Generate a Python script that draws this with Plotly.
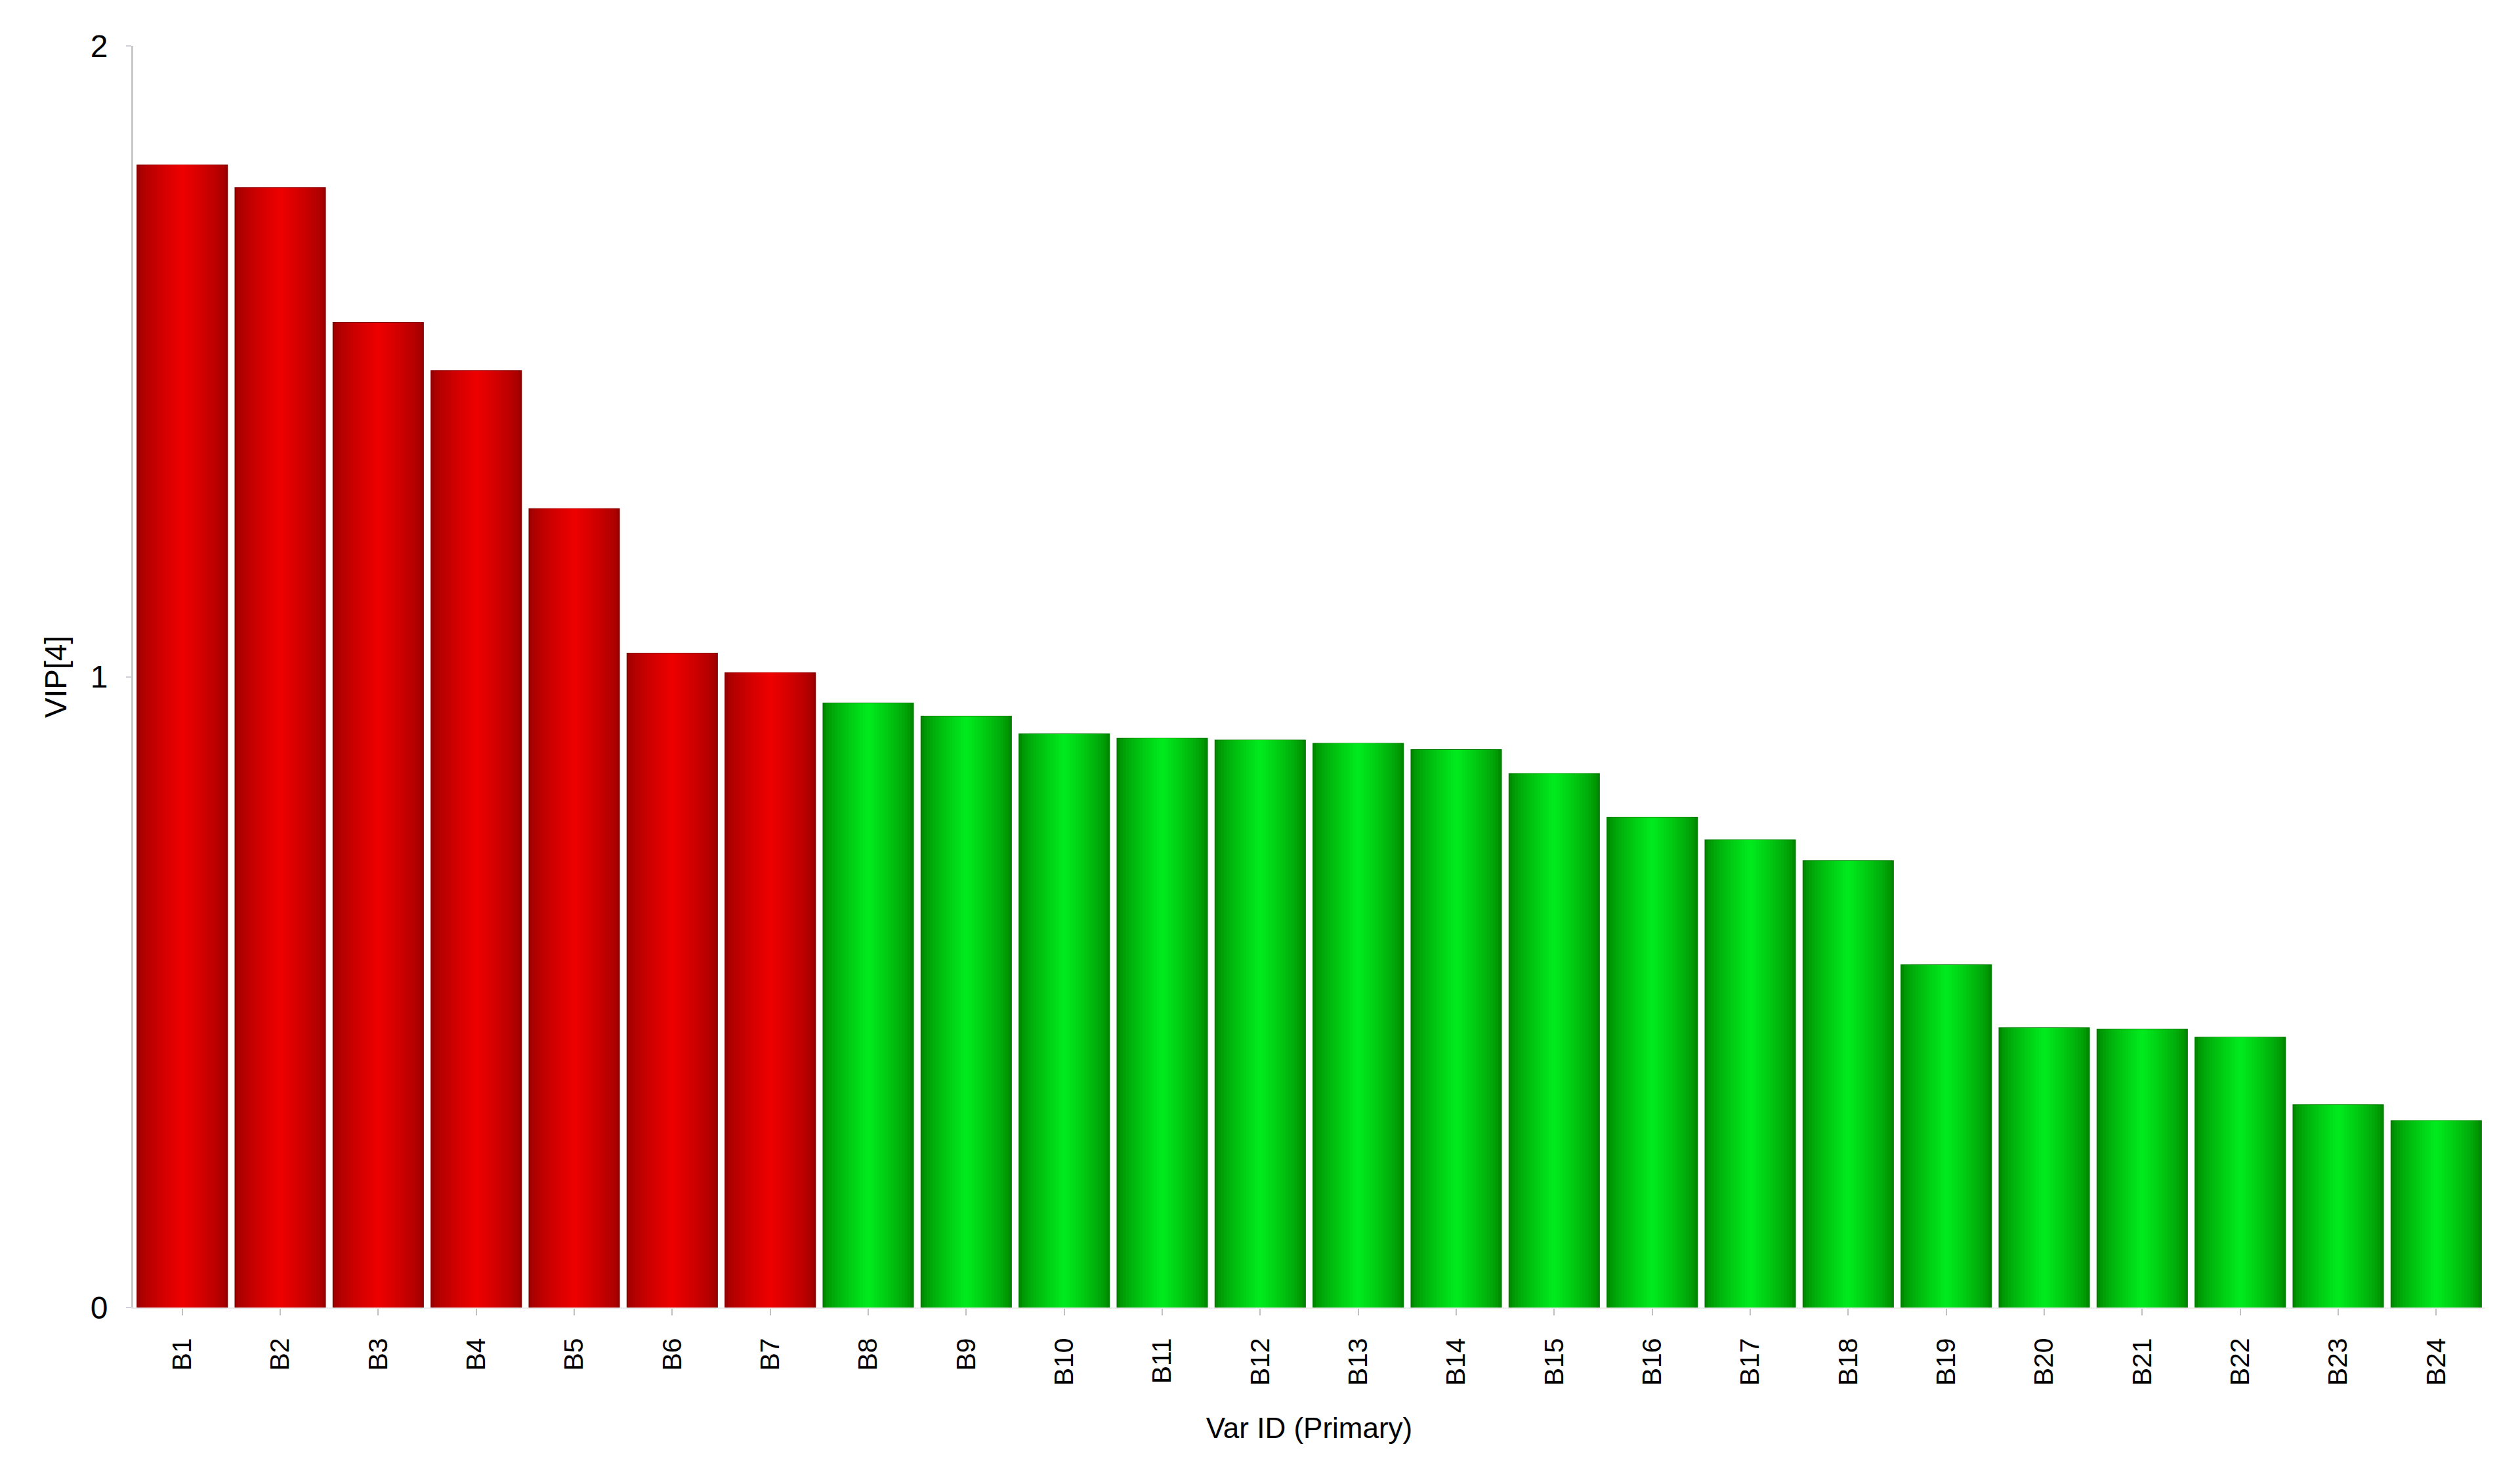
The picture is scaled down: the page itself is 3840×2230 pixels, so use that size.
import plotly.graph_objects as go

# ---- data ----
var_ids = ["B1", "B2", "B3", "B4", "B5", "B6", "B7", "B8", "B9", "B10", "B11", "B12",
           "B13", "B14", "B15", "B16", "B17", "B18", "B19", "B20", "B21", "B22", "B23", "B24"]
vip_values = [1.811, 1.775, 1.561, 1.485, 1.266, 1.037, 1.006, 0.958, 0.937, 0.909, 0.902, 0.899,
              0.894, 0.884, 0.846, 0.777, 0.741, 0.708, 0.543, 0.443, 0.441, 0.428, 0.321, 0.296]
y_ticks = [0, 1, 2]
threshold = 1.0

# ---- style ----
RED_EDGE, RED_CENTER, RED_LINE = (160, 0, 0), (240, 0, 0), (135, 0, 0)
GRN_EDGE, GRN_CENTER, GRN_LINE = (0, 140, 0), (0, 238, 30), (0, 125, 0)
BAR_WIDTH = 0.918
N_LAYERS = 16
FONT = "Liberation Sans, Arial, sans-serif"


def mix(a, b, t):
    return "rgb(%d,%d,%d)" % tuple(round(a[i] + (b[i] - a[i]) * t) for i in range(3))


is_high = [v > threshold for v in vip_values]

fig = go.Figure()
for k in range(N_LAYERS):
    u = 1 - k / N_LAYERS                  # relative half-width of this layer
    t = (1 - u) ** 0.75                   # smooth edge-to-centre shading
    colors = [mix(RED_EDGE, RED_CENTER, t) if h else mix(GRN_EDGE, GRN_CENTER, t) for h in is_high]
    line_cols = ["rgb(%d,%d,%d)" % (RED_LINE if h else GRN_LINE) for h in is_high]
    fig.add_trace(go.Bar(
        x=var_ids, y=vip_values,
        width=BAR_WIDTH * u,
        marker=dict(color=colors,
                    line=dict(color=line_cols if k == 0 else None, width=2 if k == 0 else 0)),
        showlegend=False, hoverinfo="x+y" if k == 0 else "skip",
    ))

fig.update_layout(
    width=3840, height=2230,
    barmode="overlay",
    plot_bgcolor="white", paper_bgcolor="white",
    margin=dict(l=203, r=53, t=70, b=237),
    font=dict(family=FONT, color="black"),
    xaxis=dict(
        title=dict(text="Var ID (Primary)", font=dict(size=44), standoff=50),
        tickangle=-90, tickfont=dict(size=41),
        ticks="outside", ticklen=10, tickwidth=2, tickcolor="#c0c0c0",
        ticklabelstandoff=18,
        showline=True, linecolor="#ececec", linewidth=2,
        showgrid=False, zeroline=False,
        range=[-0.5, len(var_ids) - 0.5],
    ),
    yaxis=dict(
        title=dict(text="VIP[4]", font=dict(size=46), standoff=22),
        range=[0, 2], tickvals=y_ticks, ticktext=[str(v) for v in y_ticks],
        tickfont=dict(size=48),
        ticks="outside", ticklen=8, tickwidth=2, tickcolor="#d0d0dc",
        ticklabelstandoff=18,
        showline=True, linecolor="#c8c8c8", linewidth=3,
        showgrid=False, zeroline=False,
    ),
)

fig.write_html("out.html", config={"displayModeBar": False},
               post_script="document.body.style.margin='0';document.body.style.overflow='hidden';")
